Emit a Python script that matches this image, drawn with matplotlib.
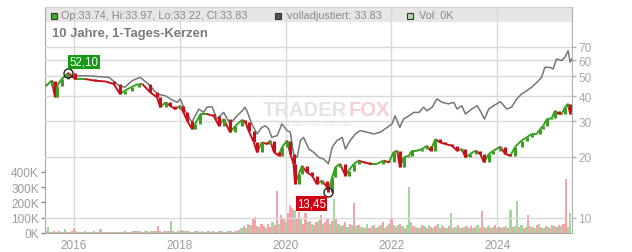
import numpy as np
import matplotlib
matplotlib.use('Agg')
import matplotlib.pyplot as plt
from matplotlib.collections import LineCollection
from matplotlib.patches import Rectangle
from matplotlib.ticker import NullLocator, FixedLocator, FixedFormatter

plt.rcParams['font.family'] = ['Liberation Sans', 'DejaVu Sans']

# ---------------- data ----------------
close_dates = [2015.47, 2015.58, 2015.64, 2015.68, 2015.77, 2015.89, 2016.02, 2016.21, 2016.40, 2016.59,
               2016.75, 2016.87, 2016.96, 2017.10, 2017.22, 2017.29, 2017.44, 2017.57, 2017.63, 2017.73,
               2017.82, 2017.91, 2018.01, 2018.07, 2018.14, 2018.23, 2018.29, 2018.39, 2018.51, 2018.64,
               2018.74, 2018.83, 2018.95, 2019.05, 2019.18, 2019.24, 2019.30, 2019.40, 2019.46, 2019.55,
               2019.65, 2019.71, 2019.78, 2019.87, 2019.93, 2020.03, 2020.09, 2020.15, 2020.18, 2020.25,
               2020.31, 2020.40, 2020.50, 2020.59, 2020.69, 2020.78, 2020.81, 2020.88, 2020.94, 2021.03,
               2021.13, 2021.19, 2021.29, 2021.38, 2021.48, 2021.60, 2021.73, 2021.85, 2021.95, 2022.04,
               2022.11, 2022.16, 2022.23, 2022.33, 2022.39, 2022.48, 2022.58, 2022.67, 2022.74, 2022.83,
               2022.92, 2023.02, 2023.15, 2023.24, 2023.33, 2023.40, 2023.49, 2023.59, 2023.68, 2023.75,
               2023.84, 2023.93, 2024.06, 2024.15, 2024.25, 2024.34, 2024.46, 2024.56, 2024.65, 2024.75,
               2024.81, 2024.87, 2024.94, 2025.03, 2025.09, 2025.16, 2025.22, 2025.28, 2025.34, 2025.38,
               2025.41]
closes = [44.9, 47.6, 39.6, 45.0, 48.5, 52.1, 48.5, 48.5, 47.6, 47.2,
          45.9, 40.9, 42.5, 44.5, 45.9, 45.9, 41.7, 39.4, 35.2, 37.2,
          35.8, 34.5, 35.8, 33.2, 30.2, 27.5, 29.1, 32.6, 32.6, 31.9,
          28.5, 30.8, 26.5, 28.5, 30.5, 29.7, 27.0, 23.6, 21.1, 23.6,
          23.2, 24.1, 21.1, 20.3, 22.3, 24.1, 20.7, 18.5, 14.7, 16.5,
          18.1, 16.8, 16.2, 14.7, 15.3, 14.2, 13.45, 15.9, 17.8, 18.5,
          16.2, 17.1, 18.5, 19.2, 18.8, 18.5, 18.5, 19.2, 18.8, 21.1,
          21.5, 17.8, 19.9, 20.3, 21.5, 21.5, 21.9, 22.7, 21.5, 24.5,
          23.6, 23.2, 22.7, 21.5, 21.9, 19.9, 20.7, 21.5, 20.7, 18.8,
          20.7, 21.5, 22.5, 20.7, 20.3, 22.5, 24.1, 25.0, 26.0, 26.0,
          27.5, 28.5, 30.8, 31.0, 33.8, 32.6, 32.6, 35.2, 36.6, 32.6,
          33.83]

adj_dates = [2015.47, 2015.58, 2015.68, 2015.77, 2015.89, 2015.96, 2016.21, 2016.40, 2016.66, 2016.85,
             2016.96, 2017.10, 2017.25, 2017.44, 2017.57, 2017.73, 2017.82, 2017.95, 2018.01, 2018.10,
             2018.23, 2018.36, 2018.45, 2018.51, 2018.61, 2018.70, 2018.83, 2018.95, 2019.08, 2019.18,
             2019.23, 2019.27, 2019.36, 2019.46, 2019.55, 2019.62, 2019.68, 2019.74, 2019.84, 2019.93,
             2020.03, 2020.09, 2020.15, 2020.22, 2020.28, 2020.34, 2020.44, 2020.53, 2020.63, 2020.72,
             2020.81, 2020.88, 2020.97, 2021.07, 2021.13, 2021.22, 2021.32, 2021.41, 2021.54, 2021.67,
             2021.79, 2021.92, 2022.01, 2022.07, 2022.16, 2022.23, 2022.33, 2022.42, 2022.52, 2022.61,
             2022.67, 2022.77, 2022.86, 2022.96, 2023.08, 2023.18, 2023.24, 2023.33, 2023.40, 2023.52,
             2023.62, 2023.68, 2023.76, 2023.84, 2023.93, 2024.06, 2024.18, 2024.27, 2024.37, 2024.46,
             2024.56, 2024.65, 2024.75, 2024.84, 2024.90, 2025.00, 2025.06, 2025.12, 2025.22, 2025.28,
             2025.34, 2025.38, 2025.41]
adjusted = [44.9, 47.6, 45.0, 48.5, 51.4, 50.0, 50.4, 50.0, 49.5, 45.0,
            44.2, 47.6, 49.5, 45.0, 40.9, 40.1, 38.7, 37.2, 38.7, 33.8,
            29.7, 34.5, 33.2, 35.2, 35.4, 30.8, 33.2, 29.1, 31.9, 33.8,
            35.2, 33.8, 29.1, 26.0, 28.0, 28.5, 27.5, 25.0, 25.5, 29.1,
            27.0, 26.5, 20.7, 19.9, 24.1, 25.0, 21.9, 21.1, 19.9, 19.5,
            18.5, 22.3, 24.1, 25.0, 21.9, 24.1, 26.0, 27.0, 26.5, 26.0,
            26.5, 28.0, 29.1, 31.9, 28.0, 30.8, 31.9, 33.2, 33.2, 35.2,
            33.8, 35.2, 38.7, 37.2, 36.6, 37.2, 34.5, 35.8, 32.6, 34.5,
            35.8, 33.8, 30.8, 34.5, 35.8, 37.5, 34.5, 35.2, 38.7, 40.9,
            42.5, 44.2, 46.7, 49.5, 55.4, 55.4, 54.4, 60.9, 59.9, 62.2,
            66.9, 58.7, 60.9]

# volume in thousands, two bars per month starting mid-2015
vol_start = 2015.46
volume_k = [
    10, 41, 8, 6, 10, 7, 12, 8, 9, 26, 8, 6, 10, 35, 12, 8, 6, 9, 12, 7, 6, 8, 10, 7,
    9, 25, 6, 5, 7, 6, 5, 4, 8, 6, 5, 7, 10, 8, 6, 9, 10, 12, 15, 11, 9, 10, 13, 9,
    10, 12, 14, 46, 12, 9, 14, 11, 12, 78, 14, 9, 10, 12, 18, 15, 12, 10, 9, 8, 12, 14, 9, 11,
    9, 8, 11, 7, 12, 9, 8, 14, 10, 8, 9, 12, 10, 8, 11, 14, 20, 30, 45, 35, 60, 55, 100, 107,
    45, 40, 60, 45, 35, 60, 40, 70, 55, 275, 60, 118, 90, 70, 130, 183, 165, 150, 100, 140, 90, 60, 130, 70,
    80, 60, 50, 70, 85, 120, 60, 75, 90, 60, 80, 222, 90, 60, 45, 55, 70, 40, 60, 50, 196, 45, 55, 40,
    40, 35, 60, 30, 45, 55, 35, 40, 50, 70, 35, 45, 60, 90, 50, 40, 55, 60, 45, 35, 50, 303, 70, 45,
    40, 35, 30, 55, 45, 30, 50, 40, 35, 45, 60, 30, 50, 40, 35, 45, 130, 30, 40, 55, 35, 30, 40, 45,
    35, 45, 30, 40, 50, 35, 146, 40, 30, 45, 35, 40, 55, 30, 40, 35, 40, 45, 30, 150, 40, 45, 211, 40,
    50, 35, 40, 118, 45, 40, 35, 50, 60, 40, 35, 45, 40, 30, 55, 45, 40, 50, 45, 60, 353, 40, 130]
volume_dir = ("ggrgrgrgrgrgrrgrgrgrgrgr" "rgrgrgrgrgrgrgrgrgrgrgrg" "grgrrgrgrgrgrgrgrgrgrgrg"
              "rgrgrgrgrgrgrgrgrgrgrgrr" "rgrrgrrgrrgrrgrrrgrrgrrg" "rgrrgrgrrgrgrgrgrgrgrgrg"
              "grgrgrgrgrgrgrgrgrgrgggr" "grgrgrgrgrgrgrgrgrgrgrgr" "grgrgrrgrgrgrgrgrgrgrggr"
              "grgrgrgrgrgrgrgrgrgrrgg")

year_ticks = [2016, 2018, 2020, 2022, 2024]
price_ticks = [10, 20, 30, 40, 50, 60, 70]
vol_ticks_k = [0, 100, 200, 300, 400]

high_point = (2015.89, 52.10)
low_point = (2020.81, 13.45)

# ---------------- figure ----------------
W, H = 632, 253
fig = plt.figure(figsize=(W / 100, H / 100), dpi=100)
L, R, T, B = 45, 572, 8, 234
ax_v = fig.add_axes([L / W, 1 - B / H, (R - L) / W, (B - T) / H])
ax_p = ax_v.twinx()

xmin, xmax = 2015.452, 2025.414
ax_v.set_xlim(xmin, xmax)
ax_v.set_ylim(0, 1477)
ax_p.set_yscale('log')
ax_p.set_ylim(8.43, 110.0)

grid_c = '#d9d9d9'
# header band
ax_v.add_patch(Rectangle((0, (B - 23) / (B - T)), 1, 1 - (B - 23) / (B - T), transform=ax_v.transAxes,
                         facecolor='#e6e6e6', edgecolor='none', zorder=0.5))
for yr in year_ticks:
    ax_v.axvline(yr, color=grid_c, lw=1.0, zorder=1)

# volume bars
vol_dates = vol_start + np.arange(len(volume_k)) / 24.0
vcols = ['#a5d79d' if c == 'g' else '#f3a3ac' for c in volume_dir[:len(volume_k)]]
ax_v.bar(vol_dates, volume_k, width=1.0 / 24, color=vcols, linewidth=0, zorder=2)

# price grid
for p in price_ticks:
    ax_p.axhline(p, color=grid_c, lw=1.0, zorder=0)

# watermark
def px2ax(x, y):
    return (x - L) / (R - L), (B - y) / (B - T)

wx, wy = px2ax(347, 111)
ax_p.text(wx, wy, 'TRADER', transform=ax_p.transAxes, ha='right', va='center', fontsize=14.5,
          fontweight='bold', color='#e4e4e4', zorder=0.5)
wx2, _ = px2ax(349, 111)
ax_p.text(wx2, wy, 'FOX', transform=ax_p.transAxes, ha='left', va='center', fontsize=14.5,
          fontweight='bold', color='#f6d0d0', zorder=0.5)
sx, sy = px2ax(315, 125)
ax_p.text(sx, sy, 'REAL-TIME STOCK SCREENING', transform=ax_p.transAxes, ha='center', va='center',
          fontsize=3.5, color='#e0e0e0', zorder=0.5)

# adjusted line
ax_p.plot(adj_dates, adjusted, color='#767676', lw=1.1, zorder=3)

# candles: body from previous close to close, plus connecting segments
pts = np.column_stack([close_dates, closes])
segs = np.stack([pts[:-1], pts[1:]], axis=1)
ccols = ['#3c9f22' if b >= a else '#c8101a' for a, b in zip(closes[:-1], closes[1:])]
ax_p.add_collection(LineCollection(segs, colors=ccols, linewidths=1.4, zorder=4))
ax_p.vlines(close_dates[1:], closes[:-1], closes[1:], colors=ccols, linewidth=2.2, zorder=4.5)

# extreme markers and labels
for (px_, py_), txt, off, fc in [(high_point, '52,10', (11.5, 7.8), '#139a13'),
                                 (low_point, '13,45', (-12.2, -8.2), '#d00010')]:
    ax_p.plot(px_, py_, 'o', mfc='none', mec='#222222', ms=6.5, mew=1.0, zorder=6)
    ax_p.annotate(txt, xy=(px_, py_), xytext=off, textcoords='offset points', ha='center', va='center',
                  color='white', fontsize=8.3, zorder=7,
                  bbox=dict(boxstyle='square,pad=0.12', fc=fc, ec='none'))

# ---------------- axes styling ----------------
lab_c = '#9b9b9b'
ax_v.set_xticks(year_ticks)
ax_v.set_xticklabels([str(y) for y in year_ticks])
ax_v.set_yticks(vol_ticks_k)
ax_v.set_yticklabels([f'{v}K' for v in vol_ticks_k])
ax_v.tick_params(axis='x', length=0, pad=4, labelsize=8.5, labelcolor=lab_c)
ax_v.tick_params(axis='y', length=3, width=1, color='#8c8c8c', pad=1.5, labelsize=8.5, labelcolor=lab_c)

ax_p.yaxis.set_major_locator(FixedLocator(price_ticks))
ax_p.yaxis.set_major_formatter(FixedFormatter([str(p) for p in price_ticks]))
ax_p.yaxis.set_minor_locator(NullLocator())
ax_p.tick_params(axis='y', which='major', length=3, width=1, color='#b0b0b0', pad=1.5,
                 labelsize=8.5, labelcolor='#a8a8a8')

for s in ['left', 'bottom']:
    ax_v.spines[s].set_color('#a8a8a8')
ax_v.spines['top'].set_color('#d0d0d0')
ax_v.spines['right'].set_visible(False)
for s in ['left', 'top', 'bottom']:
    ax_p.spines[s].set_visible(False)
ax_p.spines['right'].set_color('#b0b0b0')

# ---------------- header texts ----------------
def fpos(x, y):
    return x / W, 1 - y / H

hdr_c = '#8a8a8a'
for (sx0, fc, txt, tx) in [(51, '#3fae2a', 'Op:33.74, Hi:33.97, Lo:33.22, Cl:33.83', 61),
                           (275, '#555555', 'volladjustiert: 33.83', 287),
                           (407, '#acdca4', 'Vol: 0K', 419)]:
    fig.patches.append(Rectangle(fpos(sx0, 19.5), 6 / W, 6 / H, transform=fig.transFigure,
                                 facecolor=fc, edgecolor='#333333', lw=0.8, zorder=5))
    fig.text(*fpos(tx, 16.3), txt, ha='left', va='center', fontsize=7.8, color=hdr_c, zorder=5)

fig.text(*fpos(52, 33.5), '10 Jahre, 1-Tages-Kerzen', ha='left', va='center', fontsize=9.4,
         fontweight='bold', color='#7a7a7a', zorder=5)

fig.savefig('out.png', dpi=100, facecolor='white')
